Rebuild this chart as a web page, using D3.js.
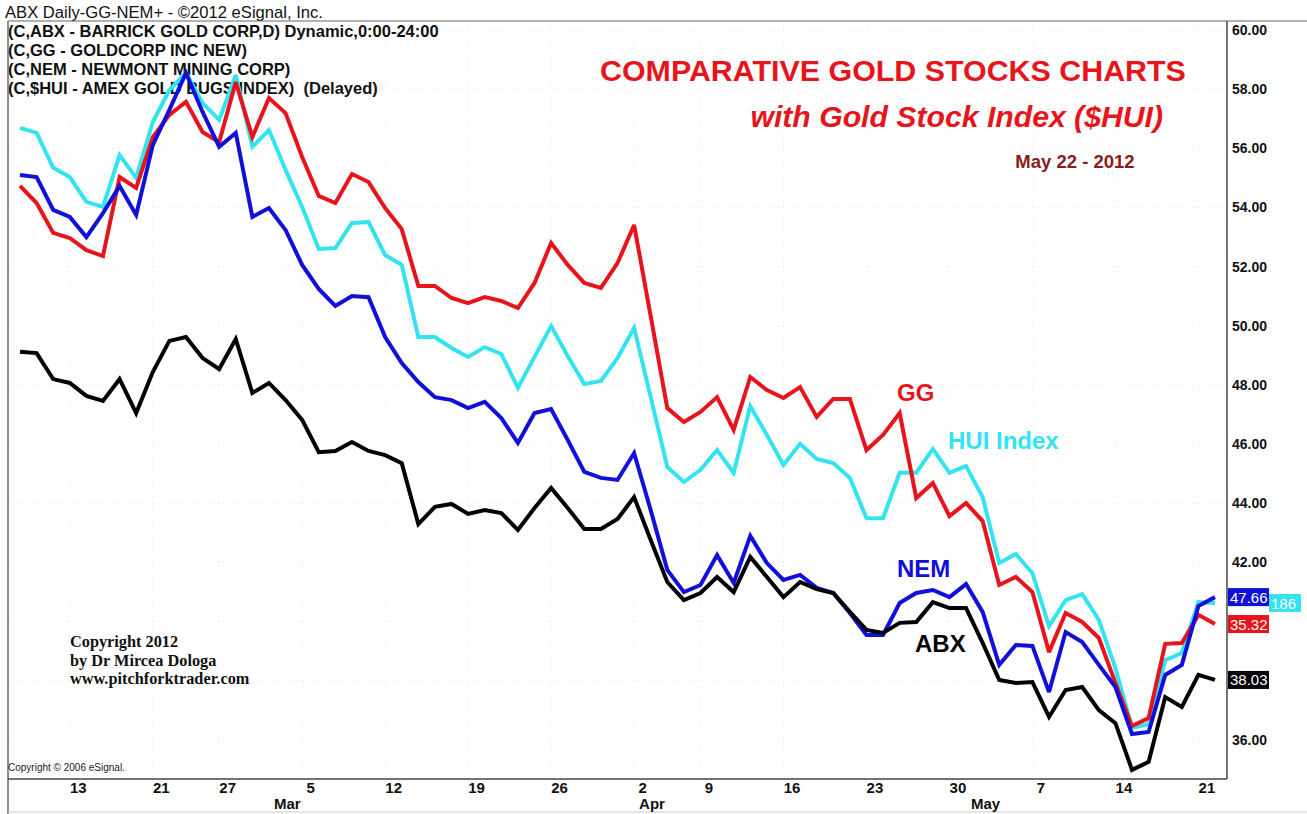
<!DOCTYPE html>
<html><head><meta charset="utf-8">
<script src="https://cdn.jsdelivr.net/npm/d3@7"></script>
<style>
html,body{margin:0;padding:0;background:#fff;}
svg{display:block;font-family:Arial,"Liberation Sans",sans-serif;}
text{white-space:pre;}
</style></head>
<body><svg id="c" width="1307" height="814"></svg>
<script>
const dates = [
"2012-02-08","2012-02-09","2012-02-10","2012-02-13","2012-02-14","2012-02-15","2012-02-16","2012-02-17","2012-02-21","2012-02-22","2012-02-23","2012-02-24","2012-02-27","2012-02-28","2012-02-29",
"2012-03-01","2012-03-02","2012-03-05","2012-03-06","2012-03-07","2012-03-08","2012-03-09","2012-03-12","2012-03-13","2012-03-14","2012-03-15","2012-03-16","2012-03-19","2012-03-20","2012-03-21","2012-03-22","2012-03-23","2012-03-26","2012-03-27","2012-03-28","2012-03-29","2012-03-30",
"2012-04-02","2012-04-03","2012-04-04","2012-04-05","2012-04-09","2012-04-10","2012-04-11","2012-04-12","2012-04-13","2012-04-16","2012-04-17","2012-04-18","2012-04-19","2012-04-20","2012-04-23","2012-04-24","2012-04-25","2012-04-26","2012-04-27","2012-04-30",
"2012-05-01","2012-05-02","2012-05-03","2012-05-04","2012-05-07","2012-05-08","2012-05-09","2012-05-10","2012-05-11","2012-05-14","2012-05-15","2012-05-16","2012-05-17","2012-05-18","2012-05-21","2012-05-22"];

const abx = [49.12,49.08,48.20,48.07,47.63,47.46,48.20,47.05,48.44,49.49,
49.62,48.91,48.54,49.55,47.73,48.07,47.49,46.82,45.73,45.77,
46.07,45.77,45.63,45.36,43.30,43.88,43.98,43.64,43.77,43.67,
43.10,43.84,44.52,43.84,43.13,43.13,43.47,44.21,42.76,41.34,
40.73,40.97,41.51,41.00,42.19,41.51,40.83,41.34,41.10,40.97,
40.33,39.72,39.62,39.96,39.99,40.66,40.46,40.46,39.28,38.03,
37.93,37.96,36.78,37.69,37.79,37.01,36.57,34.99,35.26,37.45,
37.12,38.20,38.03];

const nem = [55.10,55.03,53.92,53.68,53.00,53.81,54.73,53.75,56.11,57.30,
58.55,57.23,56.05,56.52,53.68,53.98,53.24,52.06,51.25,50.67,
51.01,50.97,49.62,48.74,48.10,47.59,47.49,47.22,47.43,46.88,
46.04,47.05,47.19,46.14,45.06,44.86,44.79,45.70,43.77,41.75,
41.00,41.24,42.25,41.31,42.90,41.98,41.41,41.58,41.14,40.97,
40.29,39.55,39.55,40.63,40.97,41.07,40.83,41.27,40.33,38.54,
39.21,39.18,37.62,39.65,39.31,38.54,37.79,36.20,36.27,38.20,
38.54,40.53,40.83];

const gg = [54.73,54.15,53.14,52.97,52.56,52.36,55.03,54.66,56.38,57.13,
57.57,56.55,56.21,58.24,56.38,57.70,57.19,55.71,54.39,54.15,
55.13,54.86,53.98,53.27,51.35,51.35,50.94,50.77,50.97,50.84,
50.60,51.45,52.80,52.06,51.45,51.28,52.12,53.41,50.33,47.22,
46.75,47.09,47.59,46.48,48.27,47.83,47.56,47.93,46.92,47.53,
47.53,45.80,46.31,47.05,44.18,44.69,43.57,44.01,43.40,41.24,
41.51,41.00,38.97,40.29,39.99,39.45,37.93,36.47,36.74,39.25,
39.28,40.23,39.92];

const hui = [56.69,56.52,55.34,55.03,54.19,54.02,55.77,55.00,56.89,57.97,
58.55,57.53,56.96,58.48,56.05,56.62,55.27,54.02,52.60,52.63,
53.48,53.51,52.39,52.06,49.62,49.62,49.25,48.95,49.28,49.05,
47.90,48.95,49.99,48.98,48.03,48.14,48.91,49.93,47.59,45.23,
44.72,45.13,45.80,45.03,47.29,46.31,45.30,46.01,45.50,45.36,
44.86,43.50,43.50,45.03,45.03,45.84,45.03,45.26,44.21,41.98,
42.29,41.64,39.85,40.73,40.93,40.06,38.43,36.41,36.54,38.70,
38.94,40.66,40.63];

const yTicks = [36,38,40,42,44,46,48,50,52,54,56,58,60];
const dayTicks = ["2012-02-13","2012-02-21","2012-02-27","2012-03-05","2012-03-12","2012-03-19","2012-03-26","2012-04-02","2012-04-09","2012-04-16","2012-04-23","2012-04-30","2012-05-07","2012-05-14","2012-05-21"];
const monthTicks = ["2012-03-01","2012-04-02","2012-05-01"];
const monthNames = ["Mar","Apr","May"];
const lastLabels = ["38.03","35.32","47.66","186"];
const headerLines = ["(C,ABX - BARRICK GOLD CORP,D) Dynamic,0:00-24:00","(C,GG - GOLDCORP INC NEW)","(C,NEM - NEWMONT MINING CORP)","(C,$HUI - AMEX GOLD BUGS INDEX)  (Delayed)"];
const copyLines = ["Copyright 2012","by Dr Mircea Dologa","www.pitchforktrader.com"];

const svg = d3.select("#c");
const L = 8, R = 1227, T = 21, B = 779;
const x = d3.scalePoint().domain(dates).range([20, 1215]);
const y = d3.scaleLinear().domain([36, 60]).range([740, 30]);

svg.append("rect").attr("width",1307).attr("height",814).attr("fill","#fff");

// faint grid
const grid = svg.append("g");
grid.selectAll("line.h").data(yTicks).join("line")
  .attr("x1",L).attr("x2",R).attr("y1",d=>y(d)).attr("y2",d=>y(d))
  .attr("stroke","#e8e8e8").attr("stroke-dasharray","1,4");
grid.selectAll("line.v").data(dayTicks).join("line")
  .attr("x1",d=>x(d)).attr("x2",d=>x(d)).attr("y1",T).attr("y2",B)
  .attr("stroke","#e8e8e8").attr("stroke-dasharray","1,4");

// header text
svg.append("text").attr("x",5).attr("y",18).attr("font-size",16.6).attr("fill","#111")
  .text("ABX Daily-GG-NEM+ - ©2012 eSignal, Inc.");
svg.selectAll("text.hdr").data(headerLines).join("text")
  .attr("x",8).attr("y",(d,i)=>37+i*19).attr("font-size",16.5).attr("font-weight","bold").attr("fill","#111")
  .attr("xml:space","preserve")
  .text(d=>d);

// frame
svg.append("line").attr("x1",L).attr("x2",1307).attr("y1",T).attr("y2",T).attr("stroke","#666").attr("stroke-width",1);
svg.append("line").attr("x1",L).attr("x2",L).attr("y1",T).attr("y2",814).attr("stroke","#666").attr("stroke-width",1.5);
svg.append("line").attr("x1",L).attr("x2",R).attr("y1",B).attr("y2",B).attr("stroke","#444").attr("stroke-width",1.5);
svg.append("line").attr("x1",R).attr("x2",R).attr("y1",T).attr("y2",B).attr("stroke","#444").attr("stroke-width",1.5);
svg.append("line").attr("x1",L).attr("x2",1307).attr("y1",812).attr("y2",812).attr("stroke","#ccc");

// last-value box positions (used to hide axis labels they cover, as in the original)
const boxes = [
  {v:abx,c:"#000",t:lastLabels[0],x:R+1,w:41},
  {v:gg,c:"#e8141b",t:lastLabels[1],x:R+1,w:41},
  {v:nem,c:"#1010d8",t:lastLabels[2],x:R+1,w:41},
  {v:hui,c:"#33e3f0",t:lastLabels[3],x:R+42,w:32}
];
const boxY = boxes.map(b=>y(b.v[b.v.length-1]));
const labelTicks = yTicks.filter(t=>boxY.every(by=>Math.abs(y(t)-by)>12));

// y axis right
const ya = svg.append("g").attr("transform",`translate(${R},0)`)
  .call(d3.axisRight(y).tickValues(labelTicks).tickFormat(d3.format(".2f")).tickSize(0).tickPadding(5));
ya.select(".domain").remove();
ya.selectAll("text").attr("font-size",14).attr("font-weight","bold").attr("fill","#111").attr("font-family","Arial");

// x axis
const xa = svg.append("g").attr("transform",`translate(8,${B})`)
  .call(d3.axisBottom(x).tickValues(dayTicks).tickFormat(d=>String(+d.slice(8))).tickSize(0).tickPadding(3));
xa.select(".domain").remove();
xa.selectAll("text").attr("font-size",15).attr("font-weight","bold").attr("fill","#111").attr("font-family","Arial");

svg.selectAll("text.mon").data(monthTicks).join("text")
  .attr("x",d=>x(d)+5).attr("y",809).attr("font-size",15).attr("font-weight","bold").attr("fill","#111")
  .text((d,i)=>monthNames[i]);

// lines
const line = d3.line().x((d,i)=>x(dates[i])).y(d=>y(d));
const series = [
  {v:hui,c:"#33e3f0"},
  {v:gg,c:"#e8141b"},
  {v:nem,c:"#1010d8"},
  {v:abx,c:"#000"}
];
svg.append("g").selectAll("path").data(series).join("path")
  .attr("d",d=>line(d.v)).attr("fill","none").attr("stroke",d=>d.c)
  .attr("stroke-width",4).attr("stroke-linejoin","miter").attr("stroke-miterlimit",3);

// last value boxes
const bg = svg.append("g");
boxes.forEach((b,i)=>{
  const yy = boxY[i];
  bg.append("rect").attr("x",b.x).attr("y",yy-9).attr("width",b.w).attr("height",18).attr("fill",b.c);
  bg.append("text").attr("x",b.x+2).attr("y",yy+5.5).attr("font-size",15).attr("fill","#fff").text(b.t);
});

// titles
svg.append("text").attr("x",600).attr("y",81).attr("font-size",30.4).attr("font-weight","bold").attr("fill","#e8141b")
  .text("COMPARATIVE GOLD STOCKS CHARTS");
svg.append("text").attr("x",1163).attr("y",127).attr("text-anchor","end").attr("font-size",30.2).attr("font-weight","bold").attr("font-style","italic").attr("fill","#e8141b")
  .text("with Gold Stock Index ($HUI)");
svg.append("text").attr("x",1075).attr("y",168).attr("text-anchor","middle").attr("font-size",18.5).attr("font-weight","bold").attr("fill","#8c1a1a")
  .text("May 22 - 2012");

// series labels
const lab = [
  {t:"GG",x:897,y:401,c:"#e8141b"},
  {t:"HUI Index",x:948,y:449,c:"#33e3f0"},
  {t:"NEM",x:897,y:577,c:"#1010d8"},
  {t:"ABX",x:915,y:652,c:"#000"}
];
svg.selectAll("text.lab").data(lab).join("text")
  .attr("x",d=>d.x).attr("y",d=>d.y).attr("font-size",24).attr("font-weight","bold").attr("fill",d=>d.c).text(d=>d.t);

// copyright
svg.selectAll("text.cp").data(copyLines).join("text")
  .attr("x",70).attr("y",(d,i)=>647+i*18.5).attr("font-family","'Liberation Serif','Times New Roman',serif")
  .attr("font-size",16.3).attr("font-weight","bold").attr("fill","#111").text(d=>d);
svg.append("text").attr("x",8).attr("y",771).attr("font-size",10).attr("fill","#222").text("Copyright © 2006 eSignal.");
</script></body></html>
